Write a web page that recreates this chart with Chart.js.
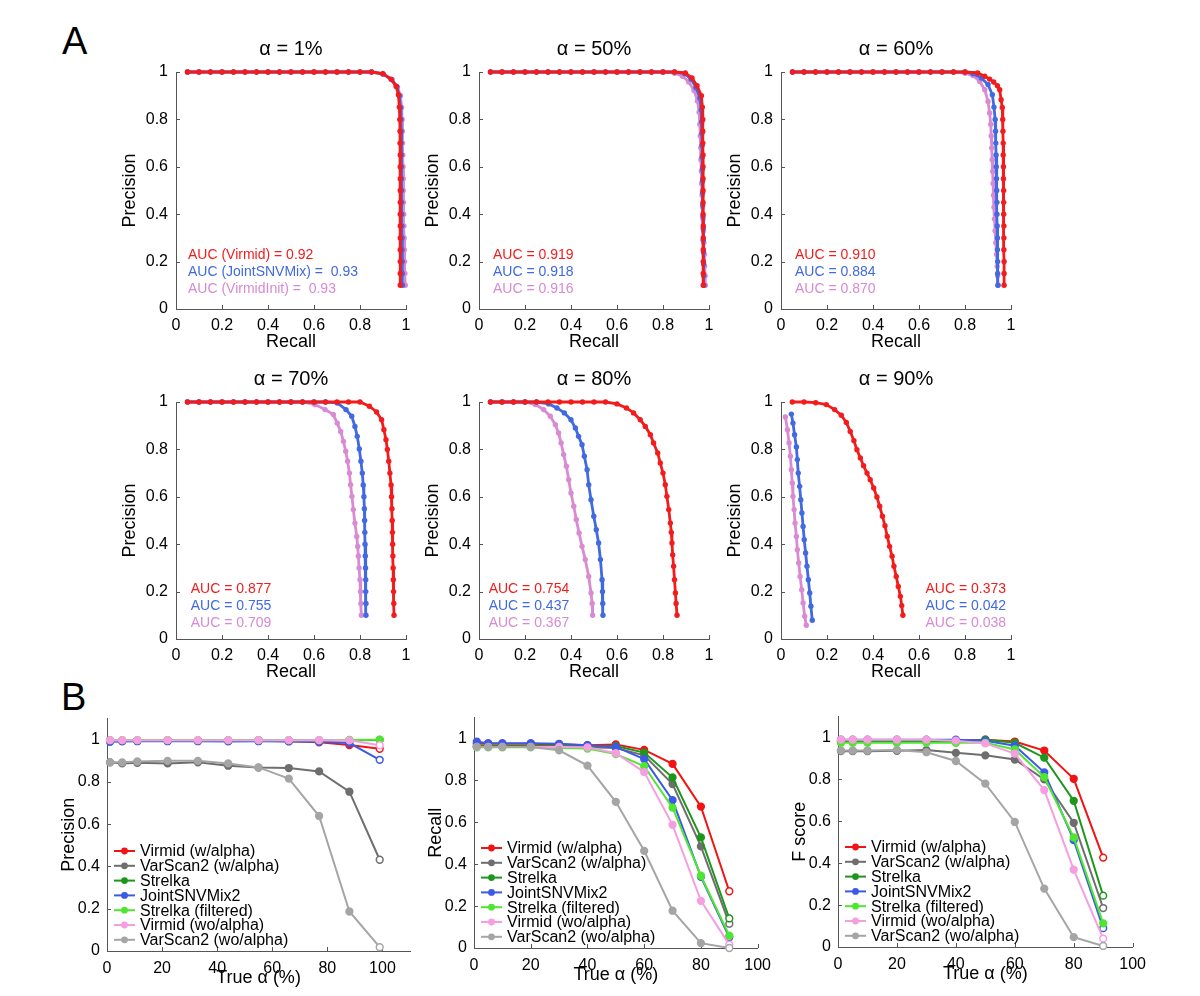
<!DOCTYPE html>
<html lang="en">
<head>
<meta charset="UTF-8">
<title>Virmid precision / recall</title>
<script src="https://cdn.jsdelivr.net/npm/chart.js"></script>
<style>
  body { margin: 0; background: #fff; width: 1200px; height: 996px; position: relative; overflow: hidden;
         font-family: "Liberation Sans", Arial, sans-serif; }
  .tag { position: absolute; font-size: 38px; line-height: 38px; color: #000; }
</style>
</head>
<body>
<div class="tag" style="left:62px;top:22px">A</div>
<div class="tag" style="left:61px;top:678px">B</div>
<script>
// ---- panel A: precision vs recall curves, [recall, precision] ----
const alphaTitles = ['α = 1%', 'α = 50%', 'α = 60%', 'α = 70%', 'α = 80%', 'α = 90%'];
const curveNames = ['Virmid', 'JointSNVMix', 'VirmidInit'];

const a01Virmid = [[0.05,1],[0.1,1],[0.15,1],[0.2,1],[0.25,1],[0.3,1],[0.35,1],[0.4,1],[0.45,1],[0.5,1],[0.55,1],[0.6,1],[0.65,1],[0.7,1],[0.75,1],[0.8,1],[0.85,1],[0.899,0.993],[0.935,0.97],[0.957,0.94],[0.967,0.904],[0.971,0.852],[0.973,0.8],[0.974,0.75],[0.974,0.7],[0.975,0.65],[0.975,0.6],[0.975,0.55],[0.975,0.5],[0.975,0.45],[0.975,0.4],[0.975,0.35],[0.975,0.3],[0.975,0.25],[0.975,0.2],[0.975,0.15],[0.975,0.1]];
const a01Joint = [[0.05,1],[0.1,1],[0.15,1],[0.2,1],[0.25,1],[0.3,1],[0.35,1],[0.4,1],[0.45,1],[0.5,1],[0.55,1],[0.6,1],[0.65,1],[0.7,1],[0.75,1],[0.8,1],[0.85,1],[0.9,0.992],[0.937,0.968],[0.96,0.938],[0.971,0.9],[0.976,0.85],[0.978,0.8],[0.979,0.75],[0.979,0.7],[0.98,0.65],[0.98,0.6],[0.98,0.55],[0.981,0.5],[0.981,0.45],[0.982,0.4],[0.982,0.35],[0.983,0.3],[0.983,0.25],[0.984,0.2],[0.984,0.15],[0.985,0.1]];
const a01Init = [[0.05,1],[0.1,1],[0.15,1],[0.2,1],[0.25,1],[0.3,1],[0.35,1],[0.4,1],[0.45,1],[0.5,1],[0.55,1],[0.6,1],[0.65,1],[0.7,1],[0.75,1],[0.8,1],[0.85,1],[0.902,0.99],[0.94,0.967],[0.963,0.936],[0.976,0.9],[0.981,0.85],[0.983,0.8],[0.984,0.75],[0.985,0.7],[0.986,0.65],[0.987,0.6],[0.988,0.55],[0.988,0.5],[0.989,0.45],[0.99,0.4],[0.991,0.35],[0.992,0.3],[0.993,0.25],[0.994,0.2],[0.995,0.15],[0.997,0.1]];

const a50Virmid = [[0.05,1],[0.1,1],[0.15,1],[0.2,1],[0.25,1],[0.3,1],[0.35,1],[0.4,1],[0.45,1],[0.5,1],[0.55,1],[0.6,1],[0.65,1],[0.7,1],[0.75,1],[0.8,1],[0.85,1],[0.897,0.996],[0.926,0.975],[0.948,0.942],[0.967,0.9],[0.971,0.852],[0.973,0.8],[0.973,0.75],[0.973,0.7],[0.974,0.65],[0.974,0.6],[0.974,0.55],[0.974,0.5],[0.974,0.45],[0.974,0.4],[0.975,0.35],[0.975,0.3],[0.975,0.25],[0.975,0.2],[0.975,0.15],[0.975,0.1]];
const a50Joint = [[0.05,1],[0.1,1],[0.15,1],[0.2,1],[0.25,1],[0.3,1],[0.35,1],[0.4,1],[0.45,1],[0.5,1],[0.55,1],[0.6,1],[0.65,1],[0.7,1],[0.75,1],[0.8,1],[0.85,1],[0.895,0.993],[0.922,0.97],[0.943,0.935],[0.96,0.89],[0.966,0.84],[0.968,0.79],[0.969,0.74],[0.97,0.69],[0.97,0.64],[0.971,0.59],[0.972,0.54],[0.972,0.49],[0.973,0.44],[0.974,0.39],[0.975,0.34],[0.975,0.29],[0.976,0.24],[0.977,0.19],[0.977,0.14],[0.978,0.1]];
const a50Init = [[0.05,1],[0.1,1],[0.15,1],[0.2,1],[0.25,1],[0.3,1],[0.35,1],[0.4,1],[0.45,1],[0.5,1],[0.55,1],[0.6,1],[0.65,1],[0.7,1],[0.75,1],[0.8,1],[0.85,0.995],[0.885,0.982],[0.912,0.958],[0.935,0.922],[0.95,0.878],[0.957,0.83],[0.96,0.78],[0.962,0.73],[0.964,0.68],[0.965,0.63],[0.967,0.58],[0.968,0.53],[0.97,0.48],[0.972,0.43],[0.974,0.38],[0.976,0.33],[0.978,0.28],[0.98,0.23],[0.981,0.18],[0.983,0.14],[0.984,0.1]];

const a60Virmid = [[0.05,1],[0.1,1],[0.15,1],[0.2,1],[0.25,1],[0.3,1],[0.35,1],[0.4,1],[0.45,1],[0.5,1],[0.55,1],[0.6,1],[0.65,1],[0.7,1],[0.75,1],[0.8,1],[0.855,0.996],[0.886,0.982],[0.907,0.97],[0.925,0.958],[0.941,0.942],[0.951,0.925],[0.957,0.883],[0.962,0.85],[0.964,0.8],[0.965,0.75],[0.966,0.7],[0.966,0.65],[0.967,0.6],[0.967,0.55],[0.968,0.5],[0.968,0.45],[0.968,0.4],[0.969,0.35],[0.969,0.3],[0.969,0.25],[0.97,0.2],[0.97,0.15],[0.97,0.1]];
const a60Joint = [[0.05,1],[0.1,1],[0.15,1],[0.2,1],[0.25,1],[0.3,1],[0.35,1],[0.4,1],[0.45,1],[0.5,1],[0.55,1],[0.6,1],[0.65,1],[0.7,1],[0.75,1],[0.8,1],[0.835,0.993],[0.871,0.975],[0.9,0.947],[0.919,0.904],[0.926,0.852],[0.931,0.8],[0.933,0.75],[0.934,0.7],[0.935,0.65],[0.936,0.6],[0.937,0.55],[0.938,0.5],[0.939,0.45],[0.939,0.4],[0.94,0.35],[0.941,0.3],[0.941,0.25],[0.942,0.2],[0.942,0.15],[0.943,0.1]];
const a60Init = [[0.05,1],[0.1,1],[0.15,1],[0.2,1],[0.25,1],[0.3,1],[0.35,1],[0.4,1],[0.45,1],[0.5,1],[0.55,1],[0.6,1],[0.65,1],[0.7,1],[0.75,1],[0.8,0.995],[0.835,0.985],[0.864,0.96],[0.886,0.925],[0.9,0.876],[0.907,0.827],[0.912,0.78],[0.914,0.73],[0.916,0.68],[0.918,0.63],[0.92,0.58],[0.922,0.53],[0.924,0.48],[0.926,0.43],[0.928,0.38],[0.931,0.33],[0.934,0.28],[0.937,0.23],[0.94,0.18],[0.942,0.14],[0.944,0.1]];

const a70Virmid = [[0.05,1],[0.1,1],[0.15,1],[0.2,1],[0.25,1],[0.3,1],[0.35,1],[0.4,1],[0.45,1],[0.5,1],[0.55,1],[0.6,1],[0.65,1],[0.7,1],[0.75,1],[0.8,1],[0.841,0.982],[0.872,0.958],[0.894,0.925],[0.904,0.883],[0.913,0.841],[0.919,0.8],[0.925,0.75],[0.93,0.7],[0.935,0.65],[0.937,0.6],[0.939,0.55],[0.94,0.5],[0.941,0.45],[0.942,0.4],[0.943,0.35],[0.944,0.3],[0.945,0.25],[0.946,0.2],[0.947,0.15],[0.948,0.1]];
const a70Joint = [[0.05,1],[0.1,1],[0.15,1],[0.2,1],[0.25,1],[0.3,1],[0.35,1],[0.4,1],[0.45,1],[0.5,1],[0.55,1],[0.6,1],[0.65,1],[0.701,0.996],[0.739,0.968],[0.764,0.94],[0.778,0.897],[0.788,0.855],[0.797,0.802],[0.804,0.75],[0.81,0.7],[0.814,0.65],[0.817,0.6],[0.819,0.55],[0.82,0.5],[0.821,0.45],[0.822,0.4],[0.823,0.35],[0.824,0.3],[0.825,0.25],[0.825,0.2],[0.826,0.15],[0.826,0.1]];
const a70Init = [[0.05,1],[0.1,1],[0.15,1],[0.2,1],[0.25,1],[0.3,1],[0.35,1],[0.4,1],[0.45,1],[0.5,1],[0.55,1],[0.604,0.989],[0.648,0.968],[0.684,0.947],[0.701,0.911],[0.716,0.876],[0.728,0.834],[0.738,0.792],[0.746,0.75],[0.754,0.7],[0.759,0.651],[0.765,0.602],[0.771,0.546],[0.778,0.489],[0.786,0.433],[0.79,0.39],[0.793,0.349],[0.796,0.3],[0.8,0.25],[0.802,0.2],[0.804,0.15],[0.806,0.1]];

const a80Virmid = [[0.05,1],[0.1,1],[0.15,1],[0.2,1],[0.25,1],[0.3,1],[0.35,1],[0.4,1],[0.45,1],[0.5,1],[0.55,1],[0.6,0.992],[0.641,0.975],[0.672,0.954],[0.701,0.925],[0.723,0.897],[0.745,0.862],[0.759,0.827],[0.777,0.785],[0.788,0.743],[0.8,0.7],[0.81,0.651],[0.817,0.602],[0.825,0.546],[0.832,0.489],[0.836,0.45],[0.839,0.405],[0.842,0.355],[0.846,0.307],[0.85,0.25],[0.854,0.194],[0.857,0.15],[0.861,0.1]];
const a80Joint = [[0.05,1],[0.1,1],[0.15,1],[0.2,1],[0.25,1],[0.303,0.992],[0.339,0.975],[0.371,0.954],[0.4,0.925],[0.419,0.89],[0.433,0.855],[0.448,0.82],[0.458,0.771],[0.47,0.714],[0.477,0.651],[0.487,0.588],[0.499,0.518],[0.51,0.461],[0.52,0.405],[0.528,0.335],[0.535,0.25],[0.537,0.2],[0.538,0.15],[0.539,0.1]];
const a80Init = [[0.05,1],[0.1,1],[0.15,1],[0.2,1],[0.245,0.989],[0.281,0.968],[0.31,0.94],[0.332,0.904],[0.346,0.869],[0.357,0.827],[0.368,0.778],[0.38,0.729],[0.39,0.672],[0.4,0.616],[0.412,0.56],[0.423,0.504],[0.435,0.447],[0.448,0.391],[0.462,0.335],[0.477,0.264],[0.487,0.194],[0.492,0.15],[0.494,0.1]];

const a90Virmid = [[0.049,1],[0.1,1],[0.151,0.997],[0.197,0.989],[0.233,0.968],[0.262,0.944],[0.284,0.914],[0.301,0.876],[0.317,0.837],[0.33,0.799],[0.345,0.764],[0.359,0.731],[0.374,0.7],[0.388,0.672],[0.403,0.637],[0.417,0.599],[0.429,0.56],[0.441,0.518],[0.452,0.478],[0.462,0.433],[0.472,0.391],[0.483,0.349],[0.491,0.307],[0.501,0.264],[0.51,0.222],[0.519,0.18],[0.525,0.141],[0.53,0.1]];
const a90Joint = [[0.045,0.949],[0.052,0.911],[0.059,0.862],[0.067,0.81],[0.071,0.757],[0.075,0.7],[0.081,0.644],[0.086,0.588],[0.091,0.532],[0.096,0.475],[0.101,0.419],[0.107,0.363],[0.113,0.307],[0.119,0.25],[0.125,0.194],[0.13,0.138],[0.136,0.079]];
const a90Init = [[0.019,0.937],[0.028,0.883],[0.035,0.827],[0.041,0.771],[0.045,0.714],[0.049,0.658],[0.052,0.602],[0.057,0.546],[0.061,0.489],[0.067,0.433],[0.071,0.377],[0.077,0.321],[0.083,0.264],[0.09,0.208],[0.096,0.152],[0.103,0.096],[0.11,0.058]];

const aucLabels = [
  ['AUC (Virmid) = 0.92', 'AUC (JointSNVMix) =  0.93', 'AUC (VirmidInit) =  0.93'],
  ['AUC = 0.919', 'AUC = 0.918', 'AUC = 0.916'],
  ['AUC = 0.910', 'AUC = 0.884', 'AUC = 0.870'],
  ['AUC = 0.877', 'AUC = 0.755', 'AUC = 0.709'],
  ['AUC = 0.754', 'AUC = 0.437', 'AUC = 0.367'],
  ['AUC = 0.373', 'AUC = 0.042', 'AUC = 0.038']
];
const prTicks = [0, 0.2, 0.4, 0.6, 0.8, 1];

// ---- panel B: metrics vs true alpha ----
const bSeries = ['Virmid (w/alpha)', 'VarScan2 (w/alpha)', 'Strelka', 'JointSNVMix2', 'Strelka (filtered)', 'Virmid (wo/alpha)', 'VarScan2 (wo/alpha)'];
const precAlpha = [1.1, 5.5, 11, 22, 33, 44, 55, 66, 77, 88, 99];
const trueAlpha = [1, 5, 10, 20, 30, 40, 50, 60, 70, 80, 90];

const precVirmidW  = [0.995, 0.995, 0.995, 0.995, 0.995, 0.995, 0.995, 0.993, 0.988, 0.975, 0.957];
const precVarscanW = [0.893, 0.888, 0.891, 0.888, 0.893, 0.877, 0.868, 0.866, 0.85, 0.754, 0.432];
const precStrelka  = [0.997, 0.997, 0.997, 0.997, 0.997, 0.997, 0.997, 0.997, 0.997, 0.998, 0.999];
const precJoint    = [0.99, 0.992, 0.993, 0.993, 0.993, 0.992, 0.993, 0.992, 0.99, 0.984, 0.905];
const precStrelkaF = [0.998, 0.998, 0.998, 0.998, 0.998, 0.998, 0.998, 0.998, 0.998, 0.999, 1.0];
const precVirmidWo = [0.998, 0.998, 0.998, 0.998, 0.998, 0.998, 0.998, 0.998, 0.998, 0.997, 0.974];
const precVarscanWo = [0.893, 0.893, 0.897, 0.9, 0.9, 0.888, 0.869, 0.816, 0.639, 0.187, 0.018];

const recVirmidW  = [0.975, 0.975, 0.975, 0.975, 0.972, 0.968, 0.972, 0.946, 0.879, 0.675, 0.271];
const recVarscanW = [0.96, 0.96, 0.96, 0.96, 0.96, 0.958, 0.955, 0.92, 0.783, 0.485, 0.116];
const recStrelka  = [0.965, 0.965, 0.965, 0.965, 0.965, 0.962, 0.964, 0.933, 0.814, 0.528, 0.141];
const recJoint    = [0.985, 0.978, 0.978, 0.978, 0.975, 0.968, 0.96, 0.902, 0.706, 0.34, 0.051];
const recStrelkaF = [0.958, 0.958, 0.958, 0.958, 0.955, 0.952, 0.926, 0.868, 0.67, 0.345, 0.059];
const recVirmidWo = [0.96, 0.96, 0.96, 0.96, 0.96, 0.958, 0.93, 0.84, 0.588, 0.225, 0.016];
const recVarscanWo = [0.96, 0.96, 0.96, 0.96, 0.944, 0.871, 0.698, 0.464, 0.178, 0.023, 0.0];

const fVirmidW  = [0.985, 0.985, 0.985, 0.985, 0.985, 0.985, 0.99, 0.981, 0.938, 0.803, 0.427];
const fVarscanW = [0.935, 0.935, 0.935, 0.937, 0.94, 0.927, 0.915, 0.895, 0.8, 0.593, 0.186];
const fStrelka  = [0.98, 0.98, 0.98, 0.98, 0.98, 0.98, 0.99, 0.975, 0.904, 0.698, 0.245];
const fJoint    = [0.99, 0.99, 0.99, 0.99, 0.99, 0.99, 0.985, 0.961, 0.834, 0.51, 0.09];
const fStrelkaF = [0.975, 0.975, 0.975, 0.975, 0.975, 0.975, 0.975, 0.943, 0.811, 0.523, 0.113];
const fVirmidWo = [0.99, 0.99, 0.99, 0.99, 0.99, 0.985, 0.972, 0.923, 0.749, 0.369, 0.04];
const fVarscanWo = [0.938, 0.938, 0.938, 0.941, 0.93, 0.888, 0.78, 0.597, 0.279, 0.047, 0.005];

const metricTicks = [0, 0.2, 0.4, 0.6, 0.8, 1];
const alphaTicks = [0, 20, 40, 60, 80, 100];

// ---- styling ----
const fontFam = '"Liberation Sans", Arial, sans-serif';
const aColors = ['#f21c1c', '#4169e1', '#d98ad2'];
const bColors = ['#f01414', '#6e6e6e', '#1e961e', '#3c5ae6', '#4fe632', '#f59ee0', '#a5a5a5'];

Chart.defaults.font.family = fontFam;
Chart.defaults.color = '#000';
Chart.defaults.animation = false;

function addCanvas(left, top, w, h) {
  const c = document.createElement('canvas');
  c.width = w; c.height = h;
  c.style.cssText = `position:absolute;left:${left}px;top:${top}px;width:${w}px;height:${h}px`;
  document.body.appendChild(c);
  return c;
}

// small inward ticks, like the matlab axes
const inTicks = {
  id: 'inTicks',
  beforeDatasetsDraw(chart) {
    const { ctx, chartArea: a, scales: { x, y } } = chart;
    ctx.save();
    ctx.strokeStyle = '#555';
    ctx.lineWidth = 1;
    ctx.beginPath();
    x.ticks.forEach(t => {
      const px = Math.round(x.getPixelForValue(t.value)) + 0.5;
      ctx.moveTo(px, a.bottom); ctx.lineTo(px, a.bottom - 4);
    });
    y.ticks.forEach(t => {
      const py = Math.round(y.getPixelForValue(t.value)) + 0.5;
      ctx.moveTo(a.left, py); ctx.lineTo(a.left + 4, py);
    });
    ctx.stroke();
    ctx.restore();
  }
};

function axis(title, min, max, tickVals, size, pad) {
  return {
    type: 'linear', min, max,
    afterBuildTicks: s => { s.ticks = tickVals.map(v => ({ value: v })); },
    ticks: { padding: pad, font: { size: 16 }, color: '#000', maxRotation: 0, autoSkip: false,
             callback: v => String(v) },
    grid: { display: false, drawTicks: false },
    border: { display: true, color: '#555', width: 1 },
    title: { display: true, text: title, font: { size: 18 }, color: '#000', padding: { top: 4, bottom: 4 } },
    afterFit: s => { if (s.isHorizontal()) s.height = size; else s.width = size; }
  };
}

// ---- panel A charts ----
const aCurves = [
  [a01Virmid, a01Joint, a01Init],
  [a50Virmid, a50Joint, a50Init],
  [a60Virmid, a60Joint, a60Init],
  [a70Virmid, a70Joint, a70Init],
  [a80Virmid, a80Joint, a80Init],
  [a90Virmid, a90Joint, a90Init]
];
// canvas left/top per panel and where the AUC text block starts (data coords)
const aBoxes = [
  { left: 115, top: 30,  tx: 0.052, ty: 0.227 },
  { left: 418, top: 30,  tx: 0.061, ty: 0.227 },
  { left: 720, top: 30,  tx: 0.061, ty: 0.227 },
  { left: 115, top: 360, tx: 0.064, ty: 0.212 },
  { left: 418, top: 360, tx: 0.042, ty: 0.212 },
  { left: 720, top: 360, tx: 0.628, ty: 0.212 }
];

aCurves.forEach((curves, p) => {
  const box = aBoxes[p];
  const canvas = addCanvas(box.left, box.top, 305, 327);
  const aucPlugin = {
    id: 'auc' + p,
    afterDatasetsDraw(chart) {
      const { ctx, scales: { x, y } } = chart;
      ctx.save();
      ctx.font = '14px ' + fontFam;
      ctx.textBaseline = 'middle';
      aucLabels[p].forEach((txt, i) => {
        ctx.fillStyle = aColors[i];
        ctx.fillText(txt, x.getPixelForValue(box.tx), y.getPixelForValue(box.ty - i * 0.0715));
      });
      ctx.restore();
    }
  };
  new Chart(canvas, {
    type: 'line',
    data: {
      datasets: curves.map((pts, i) => ({
        label: curveNames[i],
        data: pts,
        borderColor: aColors[i],
        backgroundColor: aColors[i],
        pointBackgroundColor: aColors[i],
        borderWidth: 2.8,
        pointRadius: 2.7,
        pointBorderWidth: 0,
        tension: 0,
        clip: false
      }))
    },
    options: {
      responsive: false,
      layout: { padding: { top: 0, right: 14, bottom: 0, left: 0 } },
      plugins: {
        legend: { display: false },
        tooltip: { enabled: false },
        title: {
          display: true, text: alphaTitles[p], fullSize: false,
          font: { size: 20, weight: 'normal' }, color: '#000',
          padding: { top: 7, bottom: 11 }
        }
      },
      scales: {
        x: axis('Recall', 0, 1, prTicks, 48, 7),
        y: axis('Precision', 0, 1, prTicks, 61, 8)
      }
    },
    plugins: [inTicks, aucPlugin]
  });
});

// ---- panel B charts ----
const legendPlugin = {
  id: 'bLegend',
  afterDatasetsDraw(chart) {
    const { ctx, chartArea: a } = chart;
    ctx.save();
    ctx.font = '16px ' + fontFam;
    ctx.textBaseline = 'middle';
    bSeries.forEach((name, i) => {
      const y = a.bottom - 100 + i * 14.8;
      ctx.strokeStyle = bColors[i];
      ctx.lineWidth = 2;
      ctx.beginPath(); ctx.moveTo(a.left + 7, y); ctx.lineTo(a.left + 28, y); ctx.stroke();
      ctx.fillStyle = bColors[i];
      ctx.beginPath(); ctx.arc(a.left + 17.5, y, 3.4, 0, Math.PI * 2); ctx.fill();
      ctx.fillStyle = '#000';
      ctx.fillText(name, a.left + 33, y + 1);
    });
    ctx.restore();
  }
};

const bPanels = [
  { ylab: 'Precision', xs: precAlpha, xmax: 110, left: 54, top: 702, w: 368, h: 291,
    ys: [precVirmidW, precVarscanW, precStrelka, precJoint, precStrelkaF, precVirmidWo, precVarscanWo] },
  { ylab: 'Recall', xs: trueAlpha, xmax: 100, left: 421, top: 701, w: 358, h: 289,
    ys: [recVirmidW, recVarscanW, recStrelka, recJoint, recStrelkaF, recVirmidWo, recVarscanWo] },
  { ylab: 'F score', xs: trueAlpha, xmax: 100, left: 785, top: 700, w: 369, h: 289,
    ys: [fVirmidW, fVarscanW, fStrelka, fJoint, fStrelkaF, fVirmidWo, fVarscanWo] }
];

bPanels.forEach(panel => {
  const canvas = addCanvas(panel.left, panel.top, panel.w, panel.h);
  new Chart(canvas, {
    type: 'line',
    data: {
      datasets: panel.ys.map((vals, i) => ({
        label: bSeries[i],
        data: vals.map((v, k) => ({ x: panel.xs[k], y: v })),
        borderColor: bColors[i],
        backgroundColor: bColors[i],
        pointBackgroundColor: vals.map((v, k) => k === vals.length - 1 && i !== 4 ? '#ffffff' : bColors[i]),
        pointBorderColor: bColors[i],
        pointBorderWidth: 1.5,
        pointRadius: 3.4,
        borderWidth: 2,
        tension: 0,
        clip: false,
        order: bSeries.length - i
      }))
    },
    options: {
      responsive: false,
      layout: { padding: { top: 10, right: 12, bottom: 0, left: 0 } },
      plugins: { legend: { display: false }, tooltip: { enabled: false } },
      scales: {
        x: axis('True α (%)', 0, panel.xmax, alphaTicks, 42, 8),
        y: axis(panel.ylab, 0, 1.1, metricTicks, 53, 7)
      }
    },
    plugins: [inTicks, legendPlugin]
  });
});
</script>
</body>
</html>
